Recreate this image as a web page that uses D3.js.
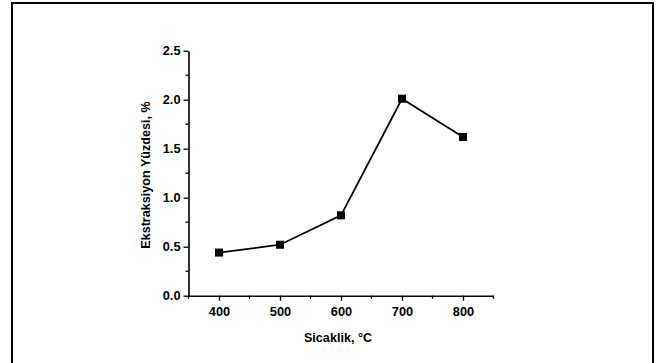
<!DOCTYPE html>
<html>
<head>
<meta charset="utf-8">
<script src="https://cdn.jsdelivr.net/npm/d3@7"></script>
<style>
  html, body { margin: 0; padding: 0; background: #fff; }
  svg { display: block; }
  text { font-family: "Liberation Sans", Arial, sans-serif; font-weight: bold; fill: #000; }
</style>
</head>
<body>
<svg id="chart" width="665" height="363"></svg>
<script>
// Extraction percentage versus temperature
const temperatures = [400, 500, 600, 700, 800];
const extraction = [0.44, 0.52, 0.82, 2.01, 1.62];
const xTicks = [400, 500, 600, 700, 800];
const yTicks = [0.0, 0.5, 1.0, 1.5, 2.0, 2.5];
const xLabel = "Sicaklik, °C";
const yLabel = "Ekstraksiyon Yüzdesi, %";

const svg = d3.select("#chart");

// outer frame
svg.append("rect")
  .attr("x", 12).attr("y", 3)
  .attr("width", 641).attr("height", 380)
  .attr("fill", "none").attr("stroke", "#000").attr("stroke-width", 2);

const x = d3.scaleLinear().domain([350, 850]).range([188.5, 493.5]);
const y = d3.scaleLinear().domain([0, 2.5]).range([295.7, 50.7]);

// minor ticks
const xMinor = d3.range(350, 851, 100);
const yMinor = d3.range(0.25, 2.5, 0.5);

const xAxis = svg.append("g").attr("transform", `translate(0,${y(0)})`)
  .call(d3.axisBottom(x).tickValues(xTicks).tickFormat(d3.format("d")).tickSize(5).tickSizeOuter(0));
xAxis.append("g").selectAll("line").data(xMinor).join("line")
  .attr("x1", d => x(d)).attr("x2", d => x(d)).attr("y1", 0).attr("y2", 3)
  .attr("stroke", "#000").attr("stroke-width", 1.3);

const yAxis = svg.append("g").attr("transform", `translate(${x(350)},0)`)
  .call(d3.axisLeft(y).tickValues(yTicks).tickFormat(d3.format(".1f")).tickSize(5).tickSizeOuter(0));
yAxis.append("g").selectAll("line").data(yMinor).join("line")
  .attr("y1", d => y(d)).attr("y2", d => y(d)).attr("x1", 0).attr("x2", -3)
  .attr("stroke", "#000").attr("stroke-width", 1.3);

[xAxis, yAxis].forEach(g => {
  g.select(".domain").attr("stroke-width", 1.6);
  g.selectAll(".tick line").attr("stroke-width", 1.3);
  g.selectAll(".tick text").attr("font-size", 12.8).attr("font-weight", "bold")
    .attr("font-family", "'Liberation Sans', Arial, sans-serif");
});
xAxis.selectAll(".tick text").attr("dy", "0.93em");

// axis titles
svg.append("text")
  .attr("x", 338).attr("y", 342)
  .attr("text-anchor", "middle").attr("font-size", 12.6)
  .text(xLabel);

svg.append("text")
  .attr("transform", `translate(150,175) rotate(-90)`)
  .attr("text-anchor", "middle").attr("font-size", 12.6)
  .text(yLabel);

// series
const pts = temperatures.map((t, i) => [t, extraction[i]]);
svg.append("path")
  .datum(pts)
  .attr("fill", "none").attr("stroke", "#000").attr("stroke-width", 1.8)
  .attr("d", d3.line().x(d => x(d[0])).y(d => y(d[1])));

const s = 8;
svg.append("g").selectAll("rect").data(pts).join("rect")
  .attr("x", d => x(d[0]) - s / 2).attr("y", d => y(d[1]) - s / 2)
  .attr("width", s).attr("height", s).attr("fill", "#000");
</script>
</body>
</html>
